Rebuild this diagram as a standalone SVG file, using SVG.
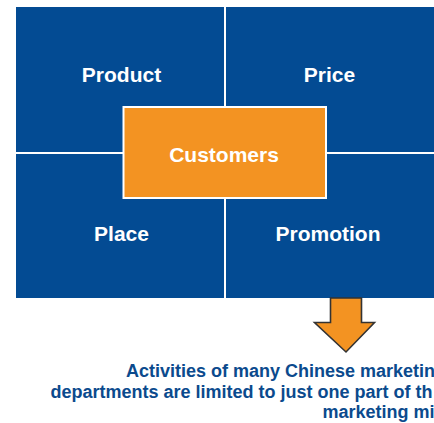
<svg xmlns="http://www.w3.org/2000/svg" width="434" height="423" viewBox="0 0 434 423">
  <style>
    .quad { fill: #034b93; }
    .divider { stroke: #ffffff; stroke-width: 2; }
    .label { font-family: "Liberation Sans", Arial, sans-serif; font-weight: bold; font-size: 21px; fill: #ffffff; text-anchor: middle; }
    .center-box { fill: #f39322; stroke: #ffffff; stroke-width: 2; }
    .arrow { fill: #f39322; stroke: #333333; stroke-width: 1.6; stroke-linejoin: miter; }
    .note { font-family: "Liberation Sans", Arial, sans-serif; font-weight: bold; font-size: 18px; fill: #0b4a8d; }
  </style>
  <rect width="434" height="423" fill="#ffffff"/>

  <!-- 4P quadrants -->
  <g id="product">
    <rect class="quad" x="16" y="7" width="209" height="146"/>
    <text class="label" x="121.5" y="81.5">Product</text>
  </g>
  <g id="price">
    <rect class="quad" x="225" y="7" width="209" height="146"/>
    <text class="label" x="329.5" y="81.5">Price</text>
  </g>
  <g id="place">
    <rect class="quad" x="16" y="153" width="209" height="145"/>
    <text class="label" x="121.5" y="240.5">Place</text>
  </g>
  <g id="promotion">
    <rect class="quad" x="225" y="153" width="209" height="145"/>
    <text class="label" x="328" y="240.5">Promotion</text>
  </g>

  <!-- dividers and arrow -->
  <g id="connectors">
    <line class="divider" x1="225" y1="7" x2="225" y2="298"/>
    <line class="divider" x1="16" y1="153" x2="434" y2="153"/>
    <path class="arrow" d="M330.5,298 L361.5,298 L361.5,322.5 L374.5,322.5 L346,352 L314.5,322.5 L330.5,322.5 Z"/>
  </g>

  <g id="customers">
    <rect class="center-box" x="123.5" y="107" width="202.5" height="91"/>
    <text class="label" x="224" y="161.5">Customers</text>
  </g>

  <g id="note">
    <text class="note" x="126" y="377">Activities of many Chinese marketin</text>
    <text class="note" x="50.5" y="397.5">departments are limited to just one part of th</text>
    <text class="note" x="322.5" y="418">marketing mi</text>
  </g>
</svg>
